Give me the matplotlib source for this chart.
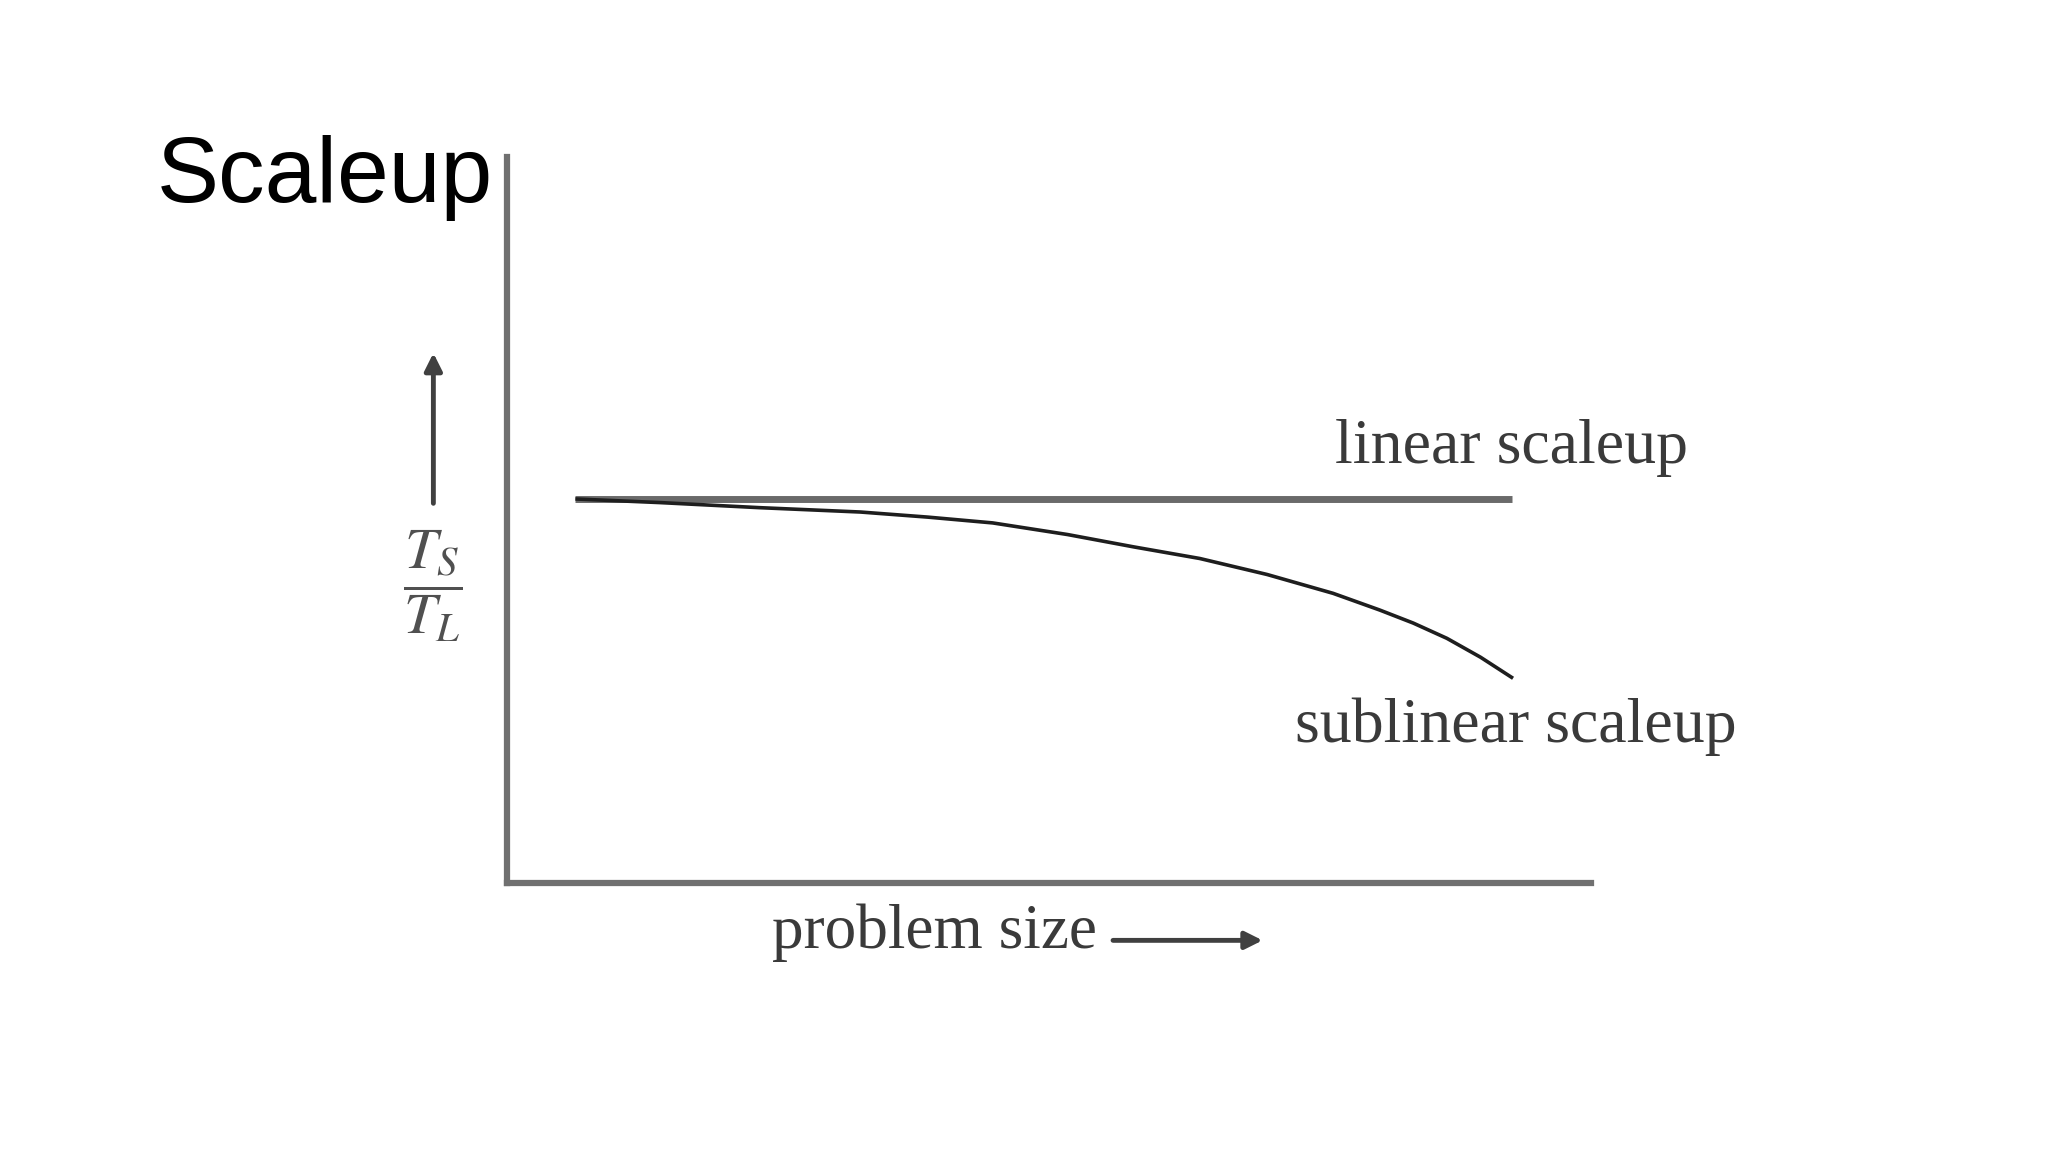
import matplotlib.pyplot as plt
import numpy as np

# values (axes run 0..100 on both sides)
linear_x = [6.3, 92.7]
linear_y = [52.9, 52.9]

sublinear_x = [6.3, 14.1, 23.3, 32.6, 38.8, 44.8, 51.7, 57.8, 63.9, 70.1, 76.2, 80.5, 83.6, 86.7, 89.8, 92.8]
sublinear_y = [52.9, 52.4, 51.7, 51.1, 50.4, 49.6, 48.0, 46.3, 44.7, 42.5, 39.9, 37.6, 35.8, 33.7, 31.1, 28.2]

title_text = "Scaleup"
linear_label = "linear scaleup"
sublinear_label = "sublinear scaleup"
x_label = "problem size"
y_label = r"$\dfrac{T_S}{T_L}$"

plt.rcParams['mathtext.fontset'] = 'stix'

fig = plt.figure(figsize=(20.48, 11.52), dpi=100)
ax = fig.add_axes([0.2476, 0.2335, 0.5293, 0.6302])
ax.set_xlim(0, 100)
ax.set_ylim(0, 100)

axis_color = '#707070'
text_color = '#3a3a3a'

# only left and bottom axis lines, no ticks
for side in ['top', 'right']:
    ax.spines[side].set_visible(False)
for side in ['left', 'bottom']:
    ax.spines[side].set_color(axis_color)
    ax.spines[side].set_linewidth(4.5)
ax.set_xticks([])
ax.set_yticks([])

ax.plot(linear_x, linear_y, color='#6a6a6a', linewidth=5, solid_capstyle='butt')
ax.plot(sublinear_x, sublinear_y, color='#1e1e1e', linewidth=2.6,
        solid_capstyle='butt', solid_joinstyle='round')

ax.text(76.4, 57.9, linear_label, family='Liberation Serif', fontsize=46,
        color=text_color, ha='left', va='baseline')
ax.text(72.7, 19.4, sublinear_label, family='Liberation Serif', fontsize=46,
        color=text_color, ha='left', va='baseline')
ax.text(24.4, -9.0, x_label, family='Liberation Serif', fontsize=45.5,
        color=text_color, ha='left', va='baseline', clip_on=False)
ax.text(-6.8, 40.9, y_label, fontsize=42, color='#505050',
        ha='center', va='center', clip_on=False)

# small arrows next to the axis labels
ax.annotate("", xy=(69.7, -7.9), xytext=(55.9, -7.9), annotation_clip=False,
            arrowprops=dict(arrowstyle='-|>', color='#404040', lw=3.5,
                            mutation_scale=26, shrinkA=0, shrinkB=0))
ax.annotate("", xy=(-6.8, 73.0), xytext=(-6.8, 52.3), annotation_clip=False,
            arrowprops=dict(arrowstyle='-|>', color='#404040', lw=3.5,
                            mutation_scale=26, shrinkA=0, shrinkB=0))

fig.text(0.0767, 0.8247, title_text, family='Liberation Sans', fontsize=67,
         color='black', ha='left', va='baseline')

plt.savefig("out.png", dpi=100)
